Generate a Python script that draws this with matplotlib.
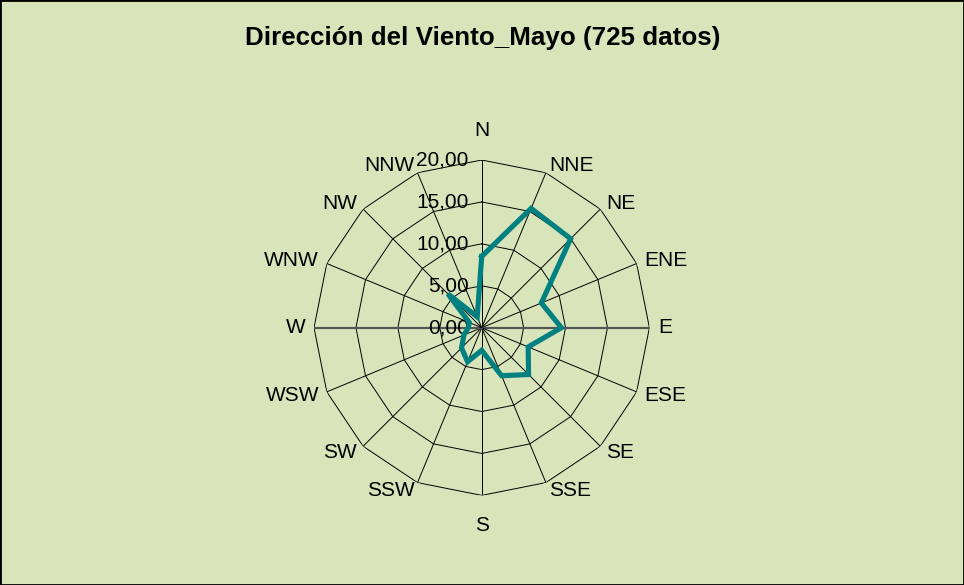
import numpy as np
import matplotlib
matplotlib.use("Agg")
import matplotlib.pyplot as plt
from matplotlib.patches import Rectangle

# wind direction frequencies (%)
directions = ['N', 'NNE', 'NE', 'ENE', 'E', 'ESE', 'SE', 'SSE',
              'S', 'SSW', 'SW', 'WSW', 'W', 'WNW', 'NW', 'NNW']
values = [8.5, 15.4, 15.0, 7.7, 9.5, 6.0, 7.9, 6.2,
          2.7, 4.4, 3.4, 2.3, 1.6, 1.6, 5.7, 1.4]
rings = [0, 5, 10, 15, 20]
ring_labels = ['0,00', '5,00', '10,00', '15,00', '20,00']
title = 'Dirección del Viento_Mayo (725 datos)'

plt.rcParams['font.family'] = ['Liberation Sans', 'DejaVu Sans']
bg = '#D8E5BB'

fig = plt.figure(figsize=(9.64, 5.85), dpi=100)
fig.patch.set_facecolor(bg)

# polar axes placed so the 20 ring matches the reference
ax = fig.add_axes([0.3257, 0.1532, 0.348, 0.5733], projection='polar')
ax.set_theta_zero_location('N')
ax.set_theta_direction(-1)
ax.set_ylim(0, 20)
ax.grid(False)
ax.set_xticks([])
ax.set_yticks([])
ax.spines['polar'].set_visible(False)
ax.patch.set_visible(False)

theta = np.deg2rad(np.arange(len(directions)) * 360.0 / len(directions))
closed = np.append(theta, theta[0])

# polygon rings
for r in rings[1:]:
    ax.plot(closed, [r] * len(closed), color='black', lw=0.7, zorder=1)

# spokes
for i, t in enumerate(theta):
    if directions[i] in ('E', 'W'):
        ax.plot([t, t], [0, 20], color='#555555', lw=1.6, zorder=1)
    else:
        ax.plot([t, t], [0, 20], color='black', lw=0.7, zorder=1)

# data line
ax.plot(closed, np.append(values, values[0]), color='#008080', lw=3.7,
        solid_joinstyle='miter', zorder=3)

# value labels along N axis
for r, lab in zip(rings, ring_labels):
    ax.annotate(lab, xy=(0, r), xytext=(-13, 0), textcoords='offset pixels',
                ha='right', va='center', fontsize=15, zorder=2)

# direction labels
for t, lab in zip(theta, directions):
    s, c = np.sin(t), np.cos(t)
    if abs(s) < 0.1:
        ax.text(t, 22.4, lab, ha='center', va='bottom' if c > 0 else 'top',
                fontsize=15)
    else:
        ax.text(t, 21.0, lab, ha='left' if s > 0 else 'right', va='center',
                fontsize=15)

fig.text(0.501, 0.935, title, ha='center', va='center', fontsize=18.7,
         fontweight='bold')

fig.patches.append(Rectangle((0, 0), 1, 1, transform=fig.transFigure,
                             fill=False, edgecolor='black', lw=2))

fig.savefig('out.png', dpi=100, facecolor=bg)
